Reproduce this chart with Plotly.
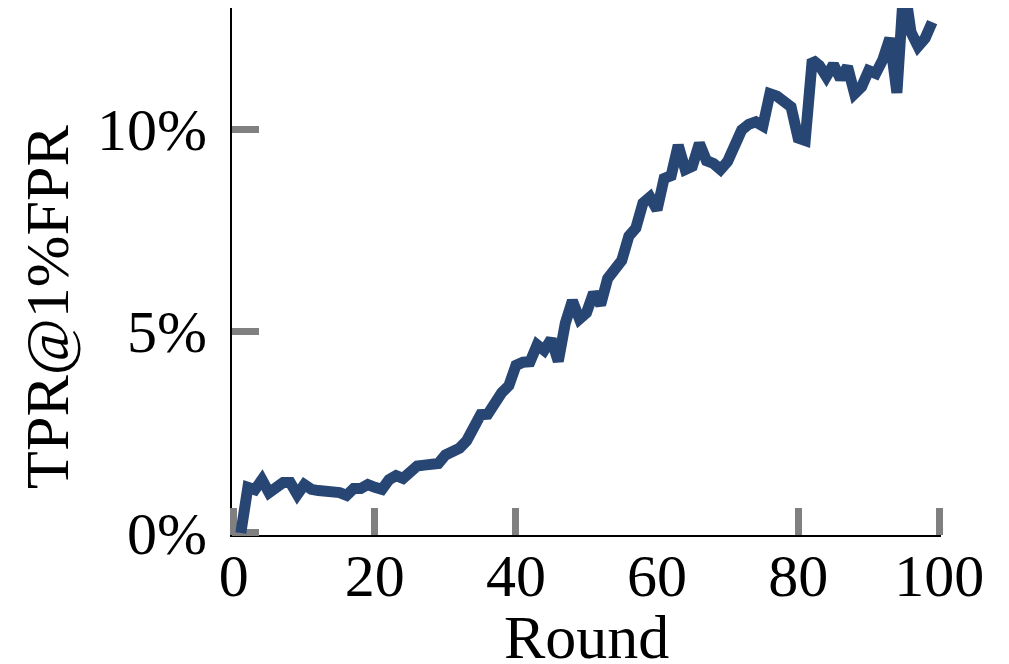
import plotly.graph_objects as go

rounds = list(range(1, 100))

tpr_main = [
    0.00, 1.13, 1.07, 1.32, 1.00, 1.17, 1.25, 1.25, 0.95, 1.20,
    1.08, 1.05, 1.04, 1.02, 1.00, 0.93, 1.10, 1.10, 1.20, 1.13,
    1.08, 1.32, 1.42, 1.35, 1.50, 1.66, 1.68, 1.70, 1.72, 1.93,
    1.98, 2.10, 2.28, 2.60, 2.93, 2.94, 3.25, 3.48, 3.65, 4.15,
    4.23, 4.24, 4.66, 4.52, 4.80, 4.25, 5.20, 5.75, 5.30, 5.45,
    5.95, 5.65, 6.30, 6.55, 6.75, 7.35, 7.55, 8.17, 8.32, 8.00,
    8.78, 8.85, 9.60, 9.00, 9.08, 9.65, 9.22, 9.15, 9.00, 9.20,
    9.60, 9.98, 10.12, 10.18, 10.08, 10.88, 10.82, 10.72, 10.55, 9.78,
    9.72, 11.72, 11.58, 11.30, 11.60, 11.25, 11.55, 10.88, 11.05, 11.45,
    11.38, 11.72, 12.25, 10.90, 13.60, 12.40, 12.05, 12.25, 12.65,
]

tpr_other = [
    0.00, 1.17, 1.12, 1.30, 1.05, 1.24, 1.29, 1.25, 0.99, 1.24,
    1.12, 1.11, 1.10, 1.08, 1.05, 0.89, 1.16, 1.13, 1.27, 1.06,
    1.14, 1.37, 1.47, 1.39, 1.53, 1.66, 1.68, 1.70, 1.72, 1.93,
    1.98, 2.10, 2.28, 2.60, 2.93, 2.94, 3.25, 3.48, 3.65, 4.15,
    4.23, 4.24, 4.66, 4.52, 4.80, 4.25, 5.20, 5.75, 5.30, 5.45,
    5.95, 5.65, 6.30, 6.55, 6.75, 7.35, 7.55, 8.17, 8.32, 8.00,
    8.78, 8.85, 9.60, 9.00, 9.08, 9.65, 9.22, 9.15, 9.00, 9.20,
    9.60, 9.98, 10.12, 10.18, 10.08, 10.88, 10.82, 10.72, 10.55, 9.78,
    9.72, 11.72, 11.58, 11.30, 11.60, 11.25, 11.55, 10.88, 11.05, 11.45,
    11.38, 11.72, 12.25, 10.90, 13.60, 12.40, 12.05, 12.25, 12.65,
]

x_tick_marks = [0, 20, 40, 80, 100]
x_tick_labels = [0, 20, 40, 60, 80, 100]
y_tick_vals = [0, 5, 10]
y_tick_text = ["0%", "5%", "10%"]

FONT = "Liberation Serif, Times New Roman, serif"
GRAY = "#808080"
X_RANGE = [-0.25, 100.25]
Y_RANGE = [-0.05, 13]

fig = go.Figure()
fig.add_trace(go.Scatter(
    x=rounds, y=tpr_other, mode="lines", xaxis="x", yaxis="y",
    line=dict(color="rgb(232,120,120)", width=3, dash="dash"),
    showlegend=False, hoverinfo="skip",
))
fig.add_trace(go.Scatter(
    x=rounds, y=tpr_main, mode="lines", xaxis="x2", yaxis="y",
    line=dict(color="rgb(40,70,115)", width=11),
    showlegend=False,
))

fig.update_layout(
    width=1009, height=664,
    margin=dict(l=232, r=68, t=8, b=129),
    paper_bgcolor="white", plot_bgcolor="white",
    font=dict(family=FONT, size=60, color="black"),
    xaxis=dict(
        range=X_RANGE, tickvals=x_tick_marks, showticklabels=False,
        ticks="inside", ticklen=27, tickwidth=7, tickcolor=GRAY,
        showline=True, linecolor="black", linewidth=2,
        showgrid=False, zeroline=False, layer="below traces",
        automargin=False,
    ),
    xaxis2=dict(
        range=X_RANGE, overlaying="x", anchor="y", side="bottom",
        tickvals=x_tick_labels, ticktext=[str(v) for v in x_tick_labels],
        ticks="", showline=False, showgrid=False, zeroline=False,
        tickfont=dict(size=60), ticklabelstandoff=0, automargin=False,
    ),
    yaxis=dict(
        range=Y_RANGE, tickvals=y_tick_vals, ticktext=y_tick_text,
        ticks="inside", ticklen=27, tickwidth=7, tickcolor=GRAY,
        showline=True, linecolor="black", linewidth=2,
        showgrid=False, zeroline=False, layer="below traces",
        tickfont=dict(size=60), ticklabelstandoff=11, automargin=False,
    ),
    annotations=[
        dict(
            text="TPR@1%FPR", textangle=-90, showarrow=False,
            xref="paper", yref="paper", x=-0.261, y=0.4326,
            xanchor="center", yanchor="middle",
            font=dict(size=62, family=FONT, color="black"),
        ),
        dict(
            text="Round", showarrow=False,
            xref="paper", yref="paper", x=0.5, y=-0.193,
            xanchor="center", yanchor="middle",
            font=dict(size=62, family=FONT, color="black"),
        ),
    ],
)

fig.write_html("out.html")
